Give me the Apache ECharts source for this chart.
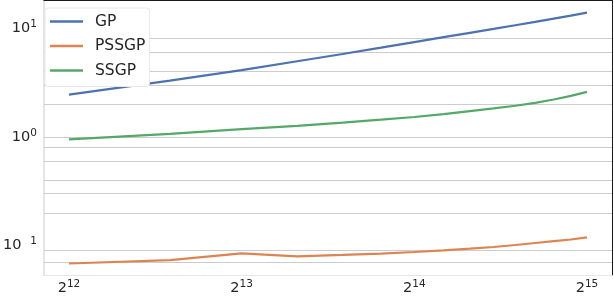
<!DOCTYPE html>
<html>
<head>
<meta charset="utf-8">
<script src="https://cdn.jsdelivr.net/npm/echarts@6/dist/echarts.min.js"></script>
<style>
html, body { margin: 0; padding: 0; background: #ffffff; }
#chart { width: 614px; height: 296px; }
</style>
</head>
<body>
<div id="chart"></div>
<script>
// Problem sizes (x) and timings (y)
const sizes = [4096, 6144, 8192, 10240, 12288, 14336, 16384, 18432, 20480, 22528, 24576, 26624, 28672, 30720, 32768];
const gp    = [2.44, 3.28, 4.09, 4.94, 5.76, 6.58, 7.41, 8.23, 9.01, 9.79, 10.57, 11.34, 12.16, 12.95, 13.79];
const pssgp = [0.0686, 0.0736, 0.0851, 0.0799, 0.0823, 0.0846, 0.0875, 0.0907, 0.0939, 0.0973, 0.1014, 0.1058, 0.110, 0.114, 0.119];
const ssgp  = [0.946, 1.065, 1.174, 1.259, 1.350, 1.437, 1.520, 1.618, 1.723, 1.822, 1.927, 2.051, 2.199, 2.376, 2.582];
const seriesNames = ['GP', 'PSSGP', 'SSGP'];
// horizontal gridline values seen in the reference
const gridValues = [8, 6, 4, 3, 2, 1, 0.8, 0.6, 0.4, 0.3, 0.2, 0.09, 0.07];
// axis extents
const xMin = 3704.5, xMax = 36232;
const yMin = 0.0538, yMax = 18.04;

const FONT = 'DejaVu Sans';
const colors = ['#4c72b0', '#dd8452', '#55a868'];
// plain line legend icon (33 x 14 box, 2.6px stroke in the middle)
const LINE_ICON = 'path://M0,0L0,0M0,5.7L33,5.7L33,8.3L0,8.3ZM33,14L33,14';

function pairs(ys) { return sizes.map((x, i) => [x, ys[i]]); }
function isPow(v, base) {
  const e = Math.log(v) / Math.log(base);
  return Math.abs(e - Math.round(e)) < 1e-6 ? Math.round(e) : null;
}

const chart = echarts.init(document.getElementById('chart'), null, { renderer: 'canvas' });
chart.setOption({
  animation: false,
  backgroundColor: '#ffffff',
  color: colors,
  textStyle: { fontFamily: FONT },
  grid: { left: 38, right: 2, top: 0, bottom: 18, containLabel: false },
  legend: {
    orient: 'vertical',
    left: 45, top: 8,
    data: seriesNames,
    icon: LINE_ICON,
    symbolKeepAspect: false,
    backgroundColor: '#ffffff',
    borderColor: '#e8e8e8',
    borderWidth: 1,
    borderRadius: 3,
    padding: [5.5, 4, 8, 5],
    itemWidth: 33,
    itemHeight: 14,
    itemGap: 8.5,
    textStyle: { fontFamily: FONT, fontSize: 15.5, lineHeight: 14, color: '#262626', padding: [0, 0, 0, 7] },
    z: 10
  },
  xAxis: [{
    type: 'log', logBase: 2, min: xMin, max: xMax,
    axisLine: { show: true, lineStyle: { color: '#e6e6e6', width: 1 } },
    axisTick: { show: false },
    splitLine: { show: false },
    axisLabel: {
      margin: 4,
      showMinLabel: false, showMaxLabel: false,
      formatter: function (v) {
        const e = isPow(v, 2);
        return e === null ? '' : '{b|2}{s|' + e + '}';
      },
      rich: {
        b: { fontFamily: FONT, fontSize: 14.5, color: '#262626' },
        s: { fontFamily: FONT, fontSize: 10.5, color: '#262626', padding: [0, 0, 8, 0] }
      }
    }
  }, {
    type: 'value', position: 'top', min: 0, max: 1,
    axisLine: { show: true, lineStyle: { color: '#1a1a1a', width: 1 } },
    axisTick: { show: false }, axisLabel: { show: false }, splitLine: { show: false }
  }],
  yAxis: [{
    type: 'log', logBase: 10, min: yMin, max: yMax,
    axisLine: { show: true, lineStyle: { color: '#dddddd', width: 1.5 } },
    axisTick: { show: false },
    splitLine: { show: false },
    axisLabel: {
      margin: 7,
      showMinLabel: false, showMaxLabel: false,
      formatter: function (v) {
        const e = isPow(v, 10);
        if (e === null) return '';
        if (e < 0) return '{b|10}{h|\u2212}{s|' + (-e) + '}';
        return '{b|10}{s|' + e + '}';
      },
      rich: {
        b: { fontFamily: FONT, fontSize: 14.5, color: '#262626' },
        s: { fontFamily: FONT, fontSize: 10.5, color: '#262626', padding: [0, 0, 8, 0] },
        h: { fontFamily: FONT, fontSize: 10.5, color: 'rgba(0,0,0,0)', padding: [0, 0, 8, 0] }
      }
    }
  }, {
    type: 'value', position: 'right', min: 0, max: 1,
    axisLine: { show: true, lineStyle: { color: '#1a1a1a', width: 1 } },
    axisTick: { show: false }, axisLabel: { show: false }, splitLine: { show: false }
  }],
  series: [
    {
      name: seriesNames[0], type: 'line', data: pairs(gp), showSymbol: false, symbol: 'none',
      lineStyle: { width: 2.2 }, z: 3,
      markLine: {
        silent: true, symbol: 'none', z: 1, animation: false,
        label: { show: false },
        lineStyle: { color: '#cccccc', width: 1, type: 'solid' },
        emphasis: { disabled: true },
        data: gridValues.map(v => ({ yAxis: v }))
      }
    },
    { name: seriesNames[1], type: 'line', data: pairs(pssgp), showSymbol: false, symbol: 'none', lineStyle: { width: 2.2 }, z: 3 },
    { name: seriesNames[2], type: 'line', data: pairs(ssgp), showSymbol: false, symbol: 'none', lineStyle: { width: 2.2 }, z: 3 }
  ]
});
</script>
</body>
</html>
